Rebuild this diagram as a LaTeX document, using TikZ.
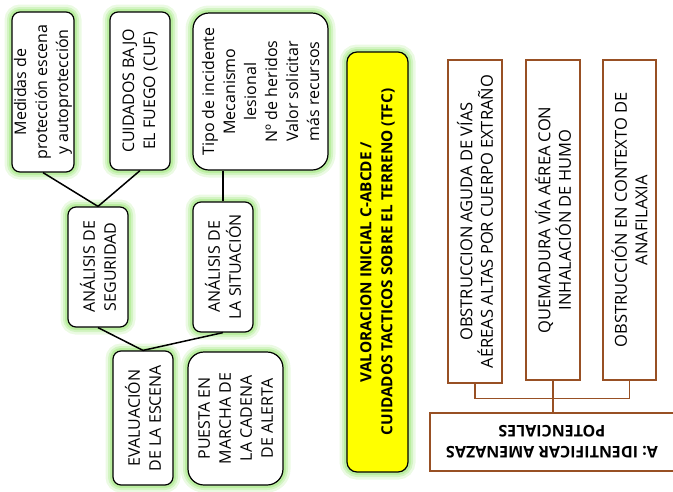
\documentclass[tikz,border=0pt]{standalone}
\usepackage{fontspec}
\setmainfont{Open Sans}
\definecolor{glowc}{RGB}{175,235,145}
\definecolor{tfcyellow}{RGB}{255,255,0}
\definecolor{brownc}{RGB}{152,80,36}

\begin{document}
\begin{tikzpicture}[x=1pt, y=-1pt,
  glow/.style={preaction={draw=glowc, line width=15pt, opacity=0.25},
               preaction={draw=glowc, line width=10pt, opacity=0.4},
               preaction={draw=glowc, line width=6pt, opacity=0.7}},
  tbox/.style={glow, draw=black, fill=white, line width=1.2pt, rounded corners=8pt,
               rotate=90, align=center, inner sep=0pt,
               font=\fontsize{16}{21}\selectfont},
  bigbox/.style={tbox, rounded corners=16pt},
  brbox/.style={draw=brownc, fill=white, line width=1.3pt, rotate=90, align=center,
               inner sep=0pt, font=\fontsize{16.5}{20.5}\selectfont},
  link/.style={draw=black, line width=1.5pt},
  brlink/.style={draw=brownc, line width=1.5pt}]
\useasboundingbox (0, 0) rectangle (673, 491);
\node[tbox, minimum width=160, minimum height=62] (med) at (43, 92)
  {Medidas de\\protección escena\\y autoprotección};
\node[tbox, minimum width=158, minimum height=60] (cuf) at (140, 91)
  {CUIDADOS BAJO\\EL FUEGO (CUF)};
\node[bigbox, minimum width=157, minimum height=135] (tipo) at (260.5, 91.5)
  {Tipo de incidente\\Mecanismo\\lesional\\Nº de heridos\\Valor solicitar\\más recursos};
\node[tbox, minimum width=120, minimum height=60] (seg) at (98, 267)
  {ANÁLISIS DE\\SEGURIDAD};
\node[tbox, minimum width=130, minimum height=60] (sit) at (223, 267)
  {ANÁLISIS DE\\LA SITUACIÓN};
\node[tbox, minimum width=134, minimum height=60] (eval) at (143, 418)
  {EVALUACIÓN\\DE LA ESCENA};
\node[bigbox, minimum width=133, minimum height=95] (pue) at (235.5, 418.5)
  {PUESTA EN\\MARCHA DE\\LA CADENA\\DE ALERTA};
\node[tbox, fill=tfcyellow, rounded corners=10pt, minimum width=420, minimum height=61,
  font=\fontsize{15.3}{21}\selectfont\bfseries] (tfc) at (377.5, 262)
  {VALORACION INICIAL C-ABCDE /\\CUIDADOS TACTICOS SOBRE EL TERRENO (TFC)};
\node[brbox, minimum width=323, minimum height=54] (ob1) at (475, 221.5)
  {OBSTRUCCION AGUDA DE VÍAS\\AÉREAS ALTAS POR CUERPO EXTRAÑO};
\node[brbox, minimum width=320, minimum height=54] (ob2) at (553, 220)
  {QUEMADURA VÍA AÉREA CON\\INHALACIÓN DE HUMO};
\node[brbox, minimum width=320, minimum height=53] (ob3) at (629.5, 220)
  {OBSTRUCCIÓN EN CONTEXTO DE\\ANAFILAXIA};
\node[brbox, rotate=90, minimum width=244, minimum height=58,
  font=\fontsize{16}{21}\selectfont\bfseries] (ame) at (552, 442)
  {A: IDENTIFICAR AMENAZAS\\POTENCIALES};
\draw[link] (med.west) -- (seg.east);
\draw[link] (cuf.west) -- (seg.east);
\draw[link] (sit.east) -- (sit.east |- tipo.west);
\draw[link] (seg.west) -- (eval.east);
\draw[link] (sit.west) -- (eval.east);
\draw[brlink] (ob1.west) -- ++(0, 15) -| (ob3.west);
\draw[brlink] (ob2.west) -- (ob2.west |- ame.south);
\end{tikzpicture}
\end{document}
